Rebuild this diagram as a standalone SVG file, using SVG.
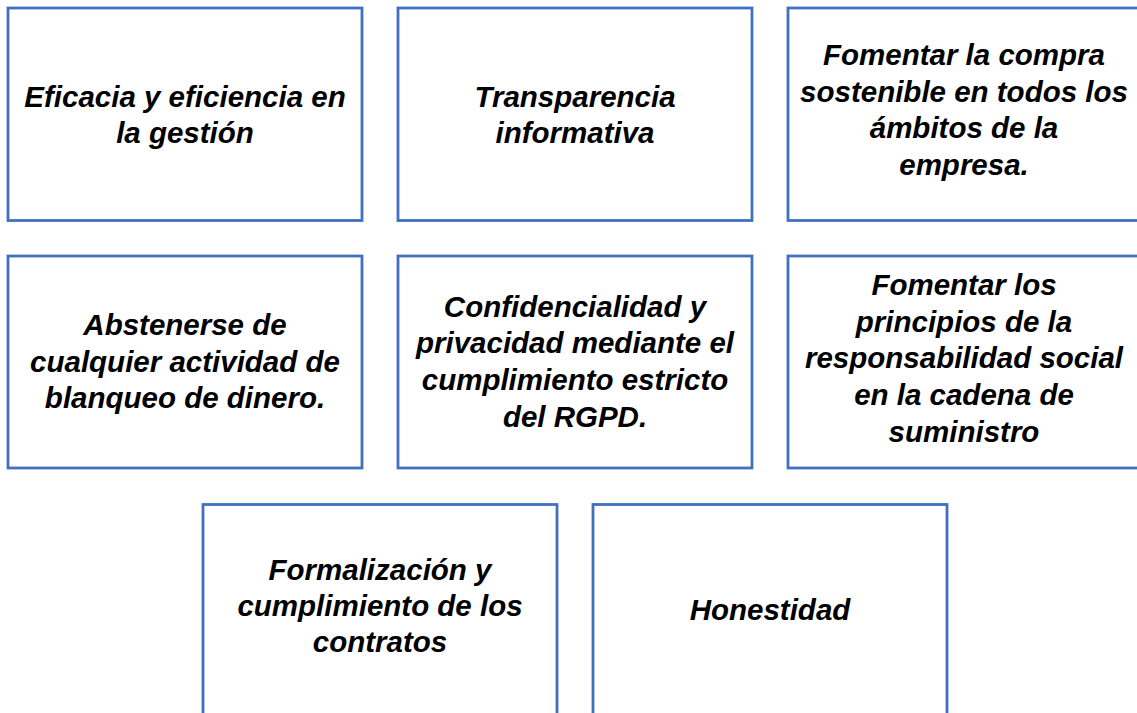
<svg xmlns="http://www.w3.org/2000/svg" width="1137" height="713" viewBox="0 0 1137 713">
<style>
.box{fill:#FFFFFF;stroke:#4070C0;stroke-width:2.8}
.t{font-family:"Liberation Sans",Arial,sans-serif;font-weight:bold;font-style:italic;font-size:29.5px;fill:#000000;text-anchor:middle}
</style>
<rect width="1137" height="713" fill="#FFFFFF"/>
<g id="connectors"></g>
<g id="n1"><rect class="box" x="8" y="8" width="354" height="212.5"/>
<text class="t" x="185" y="107">Eficacia y eficiencia en</text><text class="t" x="185" y="143">la gestión</text></g>
<g id="n2"><rect class="box" x="398" y="8" width="354" height="212.5"/>
<text class="t" x="575" y="107">Transparencia</text><text class="t" x="575" y="143">informativa</text></g>
<g id="n3"><rect class="box" x="788" y="8" width="354" height="212.5"/>
<text class="t" x="964" y="65">Fomentar la compra</text><text class="t" x="964" y="102">sostenible en todos los</text><text class="t" x="964" y="138">ámbitos de la</text><text class="t" x="964" y="175">empresa.</text></g>
<g id="n4"><rect class="box" x="8" y="256" width="354" height="212"/>
<text class="t" x="185" y="335">Abstenerse de</text><text class="t" x="185" y="372">cualquier actividad de</text><text class="t" x="185" y="408">blanqueo de dinero.</text></g>
<g id="n5"><rect class="box" x="398" y="256" width="354" height="212"/>
<text class="t" x="575" y="317">Confidencialidad y</text><text class="t" x="575" y="353">privacidad mediante el</text><text class="t" x="575" y="390">cumplimiento estricto</text><text class="t" x="575" y="427">del RGPD.</text></g>
<g id="n6"><rect class="box" x="788" y="256" width="354" height="212"/>
<text class="t" x="964" y="295">Fomentar los</text><text class="t" x="964" y="332">principios de la</text><text class="t" x="964" y="368">responsabilidad social</text><text class="t" x="964" y="405">en la cadena de</text><text class="t" x="964" y="442">suministro</text></g>
<g id="n7"><rect class="box" x="203" y="504.5" width="354" height="212"/>
<text class="t" x="380" y="580">Formalización y</text><text class="t" x="380" y="616">cumplimiento de los</text><text class="t" x="380" y="652">contratos</text></g>
<g id="n8"><rect class="box" x="593" y="504.5" width="354" height="212"/>
<text class="t" x="770" y="620">Honestidad</text></g>
</svg>
